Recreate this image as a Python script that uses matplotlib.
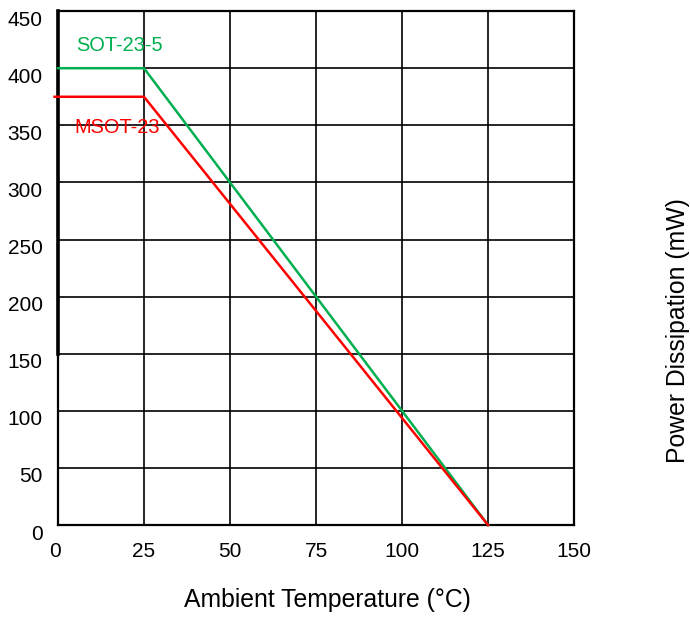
import matplotlib
matplotlib.use("Agg")
import matplotlib.pyplot as plt
import matplotlib.transforms as mtransforms

plt.rcParams['font.family'] = ['Liberation Sans', 'DejaVu Sans']

# Derating curves: ambient temperature (°C) vs. power dissipation (mW)
sot235_temp = [0, 25, 125]
sot235_power = [400, 400, 0]
msot23_temp = [-1, 25, 125]
msot23_power = [375, 375, 0]

x_ticks = [0, 25, 50, 75, 100, 125, 150]
y_ticks = [0, 50, 100, 150, 200, 250, 300, 350, 400, 450]

green = '#00b050'
red = '#ff0000'

fig = plt.figure(figsize=(6.9, 6.17), dpi=100)
ax = fig.add_axes([0.084, 0.149, 0.748, 0.833])

ax.set_xlim(0, 150)
ax.set_ylim(0, 450)
ax.set_xticks(x_ticks)
ax.set_yticks(y_ticks)
ax.grid(True, color='black', linewidth=1.2)
ax.set_axisbelow(True)
for s in ax.spines.values():
    s.set_linewidth(1.6)
    s.set_color('black')

ax.tick_params(length=0, labelsize=15, pad=11)
ax.tick_params(axis='x', pad=12)

# nudge y tick labels slightly downward
offset = mtransforms.ScaledTranslation(0, -7 / 100, fig.dpi_scale_trans)
for lbl in ax.get_yticklabels():
    lbl.set_transform(lbl.get_transform() + offset)
offx = mtransforms.ScaledTranslation(-3 / 100, 0, fig.dpi_scale_trans)
lbl0 = ax.get_xticklabels()[0]
lbl0.set_transform(lbl0.get_transform() + offx)

# heavier left border over the upper part of the axis
ax.plot([0, 0], [150, 450], color='black', linewidth=2.6, clip_on=False, zorder=3)

ax.plot(sot235_temp, sot235_power, color=green, linewidth=1.8, clip_on=False, zorder=4)
ax.plot(msot23_temp, msot23_power, color=red, linewidth=1.8, clip_on=False, zorder=4)

ax.text(5.2, 420, 'SOT-23-5', color=green, fontsize=14.4, va='center', ha='left')
ax.text(4.7, 348, 'MSOT-23', color=red, fontsize=14.4, va='center', ha='left')

fig.text(0.474, 0.027, 'Ambient Temperature (°C)', fontsize=17.8, ha='center', va='center')
fig.text(0.982, 0.465, 'Power Dissipation (mW)', fontsize=17.8, ha='center', va='center', rotation=90)

fig.savefig('out.png', dpi=100)
